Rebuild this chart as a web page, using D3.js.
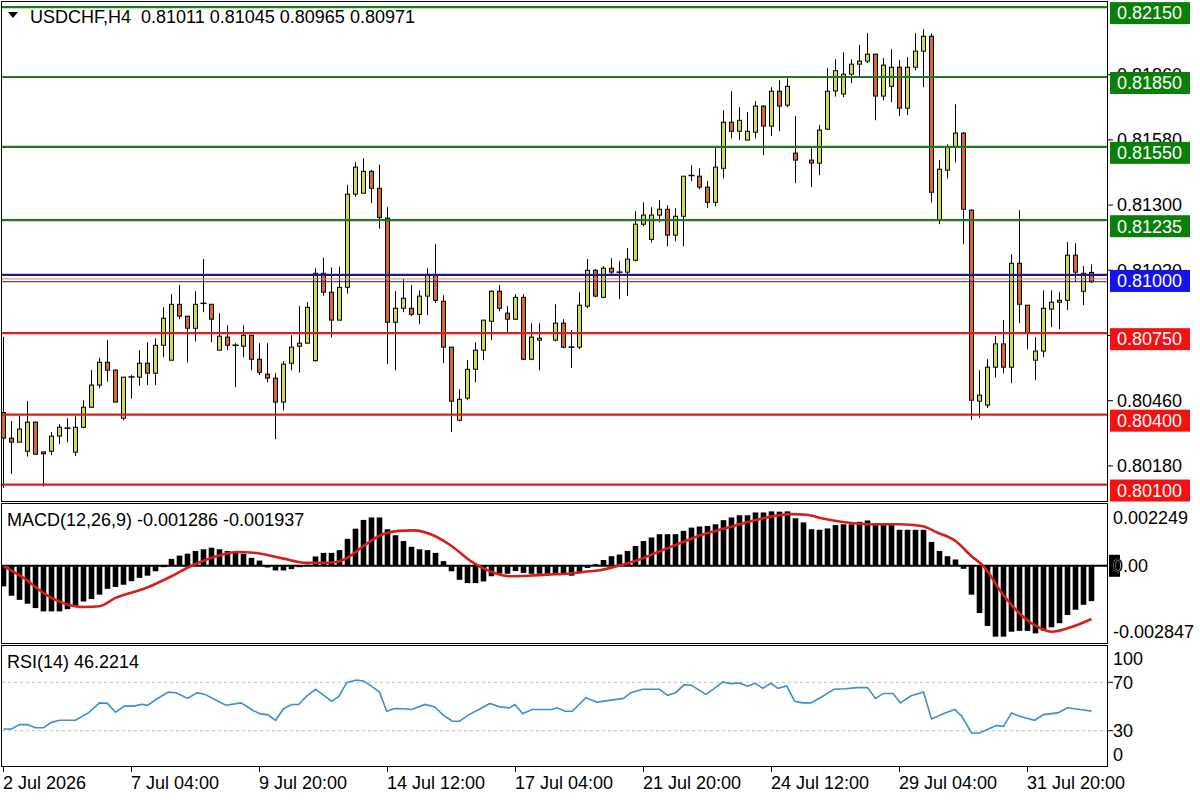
<!DOCTYPE html>
<html>
<head>
<meta charset="utf-8">
<script src="https://cdn.jsdelivr.net/npm/d3@7"></script>
<style>
  html, body { margin: 0; padding: 0; background: #fff; }
  svg { display: block; font-family: "Liberation Sans", Arial, sans-serif; }
  text { white-space: pre; }
</style>
</head>
<body>
<svg id="chart" width="1200" height="800"></svg>
<script>
// ———————————————————————————
// 1. Data (USDCHF H4)
// ———————————————————————————
const opens = [
  0.80409,0.80299,0.80282,0.80243,0.80368,0.80240,0.80243,0.80308,0.80342,0.80239,
  0.80346,0.80432,0.80527,0.80625,0.80591,0.80385,0.80562,0.80561,0.80621,0.80578,
  0.80698,0.80634,0.80874,0.80823,0.80771,0.80878,0.80874,0.80677,0.80733,0.80698,
  0.80694,0.80741,0.80638,0.80574,0.80557,0.80454,0.80621,0.80694,0.80707,0.80632,
  0.81007,0.80926,0.80806,0.80947,0.81347,0.81351,0.81445,0.81372,0.81244,0.80797,
  0.80857,0.80857,0.80831,0.80909,0.80999,0.80887,0.80690,0.80376,0.80471,0.80595,
  0.80677,0.80801,0.80930,0.80836,0.80810,0.80904,0.80638,0.80720,null,0.80720,
  0.80793,0.80690,0.80690,0.80866,0.81020,0.80904,0.81029,0.81012,0.81012,0.81063,
  0.81218,0.81153,0.81257,0.81282,0.81171,0.81252,0.81427,0.81424,0.81377,0.81312,
  0.81458,0.81656,0.81617,0.81579,0.81613,0.81725,0.81639,0.81789,0.81729,0.81523,
  null,0.81493,0.81480,0.81626,0.81790,0.81777,0.81862,0.81905,0.81918,0.81948,
  0.81768,0.81810,0.81892,0.81716,0.81892,0.81961,0.82025,0.81235,0.81450,0.81549,
  0.81609,0.81278,0.80458,0.80441,0.80604,0.80704,0.80604,0.81050,0.80870,0.80634,
  0.80673,0.80853,0.80883,0.80891,0.81085,0.80930,0.81011
];
const highs = [
  0.80734,0.80373,0.80396,0.80458,0.80370,0.80240,0.80325,0.80359,0.80385,0.80393,
  0.80462,0.80592,0.80644,0.80721,0.80595,0.80561,0.80570,0.80677,0.80711,0.80728,
  0.80861,0.80917,0.80956,0.80823,0.80930,0.81068,0.80874,0.80836,0.80784,0.80707,
  0.80784,0.80741,0.80707,0.80707,0.80578,0.80630,0.80741,0.80866,0.80883,0.81029,
  0.81074,0.81032,0.81035,0.81387,0.81485,0.81501,0.81451,0.81474,0.81291,0.80931,
  0.80982,0.80956,0.80934,0.81029,0.81132,0.80913,0.80690,0.80509,0.80634,0.80711,
  0.80806,0.80934,0.80956,0.80866,0.80917,0.80917,0.80793,0.80793,null,0.80874,
  0.80810,0.80763,0.80926,0.81068,0.81025,0.81038,0.81072,0.81059,0.81115,0.81274,
  0.81312,0.81291,0.81321,0.81299,0.81287,0.81424,0.81471,0.81458,0.81403,0.81553,
  0.81707,0.81789,0.81720,0.81699,0.81746,0.81729,0.81806,0.81836,0.81845,0.81682,
  null,0.81544,0.81643,0.81888,0.81926,0.81956,0.81926,0.81988,0.82038,0.81948,
  0.81931,0.81969,0.81922,0.81935,0.82038,0.82055,0.82038,0.81493,0.81561,0.81733,
  0.81613,0.81282,0.80591,0.80638,0.80738,0.80807,0.81089,0.81278,0.80870,0.80733,
  0.80934,0.80934,0.80926,0.81141,0.81136,0.81038,0.81045
];
const lows = [
  0.80086,0.80146,0.80283,0.80220,0.80230,0.80091,0.80226,0.80273,0.80282,0.80222,
  0.80342,0.80428,0.80514,0.80542,0.80454,0.80376,0.80469,0.80524,0.80527,0.80527,
  0.80647,0.80634,0.80810,0.80625,0.80715,0.80840,0.80711,0.80677,0.80677,0.80518,
  0.80647,0.80591,0.80570,0.80539,0.80295,0.80419,0.80591,0.80581,0.80707,0.80628,
  0.80911,0.80731,0.80806,0.80920,0.81336,0.81351,0.81308,0.81199,0.80617,0.80591,
  0.80840,0.80823,0.80788,0.80827,0.80879,0.80621,0.80325,0.80372,0.80462,0.80539,
  0.80634,0.80720,0.80844,0.80752,0.80806,0.80634,0.80634,0.80591,null,0.80715,
  0.80685,0.80600,0.80681,0.80857,0.80904,0.80900,0.81003,0.80896,0.80909,0.81059,
  0.81209,0.81139,0.81226,0.81123,0.81145,0.81123,0.81403,0.81368,0.81287,0.81295,
  0.81415,0.81587,0.81579,0.81579,0.81587,0.81514,0.81596,0.81617,0.81720,0.81394,
  null,0.81377,0.81428,0.81622,0.81766,0.81763,0.81823,0.81852,0.81909,0.81664,
  0.81750,0.81742,0.81682,0.81686,0.81879,0.81806,0.81312,0.81218,0.81415,0.81484,
  0.81132,0.80378,0.80386,0.80428,0.80559,0.80578,0.80535,0.80793,0.80681,0.80548,
  0.80647,0.80776,0.80767,0.80849,0.80969,0.80870,0.80965
];
const closes = [
  0.80299,0.80282,0.80338,0.80368,0.80230,0.80232,0.80308,0.80346,0.80343,0.80346,
  0.80432,0.80527,0.80625,0.80591,0.80454,0.80561,0.80562,0.80621,0.80578,0.80698,
  0.80814,0.80874,0.80823,0.80771,0.80874,0.80878,0.80810,0.80737,0.80698,0.80698,
  0.80741,0.80638,0.80582,0.80557,0.80454,0.80617,0.80690,0.80707,0.80861,0.81007,
  0.80926,0.80806,0.80947,0.81347,0.81463,0.81445,0.81372,0.81246,0.80797,0.80857,
  0.80900,0.80831,0.80909,0.80999,0.80891,0.80690,0.80458,0.80466,0.80595,0.80677,
  0.80806,0.80930,0.80857,0.80810,0.80904,0.80638,0.80733,0.80728,null,0.80793,
  0.80690,0.80690,0.80870,0.81020,0.80909,0.81029,0.81012,0.81012,0.81068,0.81218,
  0.81257,0.81257,0.81282,0.81171,0.81252,0.81424,0.81427,0.81377,0.81312,0.81463,
  0.81656,0.81617,0.81664,0.81617,0.81725,0.81639,0.81789,0.81725,0.81810,0.81493,
  null,0.81480,0.81622,0.81789,0.81877,0.81862,0.81905,0.81918,0.81948,0.81768,
  0.81901,0.81892,0.81716,0.81892,0.81961,0.82025,0.81355,0.81454,0.81549,0.81609,
  0.81282,0.80462,0.80484,0.80604,0.80704,0.80604,0.81050,0.80874,0.80750,0.80673,
  0.80857,0.80883,0.80891,0.81085,0.81012,0.81007,0.80971
];

// MACD(12,26,9) main histogram, one value per bar
const macdHist = [
  -0.00075,-0.00109,-0.00124,-0.00138,-0.00154,-0.00166,-0.00166,-0.00166,-0.00158,-0.00146,
  -0.00130,-0.00121,-0.00105,-0.00084,-0.00077,-0.00069,-0.00056,-0.00044,-0.00036,-0.00020,
  -0.00005,0.00025,0.00037,0.00044,0.00054,0.00060,0.00066,0.00060,0.00054,0.00047,
  0.00044,0.00029,0.00019,-0.00006,-0.00017,-0.00017,-0.00012,-0.00005,0.00004,0.00034,
  0.00047,0.00047,0.00057,0.00098,0.00135,0.00167,0.00176,0.00176,0.00133,0.00111,
  0.00090,0.00069,0.00060,0.00057,0.00047,0.00017,-0.00020,-0.00051,-0.00063,-0.00063,
  -0.00057,-0.00038,-0.00029,-0.00029,-0.00019,-0.00026,-0.00029,-0.00029,-0.00029,-0.00029,
  -0.00029,-0.00036,-0.00024,-0.00008,0.00006,0.00021,0.00035,0.00041,0.00054,0.00072,
  0.00090,0.00103,0.00115,0.00115,0.00115,0.00127,0.00139,0.00143,0.00145,0.00151,
  0.00166,0.00176,0.00184,0.00184,0.00194,0.00194,0.00198,0.00197,0.00198,0.00173,
  0.00158,0.00133,0.00131,0.00136,0.00148,0.00151,0.00151,0.00160,0.00165,0.00151,
  0.00151,0.00151,0.00131,0.00131,0.00131,0.00131,0.00087,0.00054,0.00035,0.00023,
  -0.00011,-0.00105,-0.00172,-0.00219,-0.00258,-0.00258,-0.00240,-0.00237,-0.00237,-0.00246,
  -0.00236,-0.00224,-0.00209,-0.00179,-0.00160,-0.00142,-0.001286
];

// MACD signal line, read at these bar positions
const signalBar = [0,2.5,5.3,7.7,10.1,12,14,17.8,21,23.5,26.4,29.3,32,35,37.9,40.7,42.6,45,47.4,49.4,
  51.3,53.7,56,58.4,60.8,63.2,65.6,68,70.4,73.3,74.6,77.5,79.5,81.8,84.2,86.6,89,91.3,93.7,96.1,
  98.5,100.4,102.4,104.7,108,112,114.8,116.7,119,121,122.5,124.8,127.2,129.6,131,133.4,136];
const signalValue = [-0.00001,-0.00044,-0.00105,-0.00138,-0.00150,-0.00147,-0.00117,-0.00081,-0.00038,0.00000,
  0.00033,0.00050,0.00045,0.00026,0.00011,0.00011,0.00023,0.00072,0.00115,0.00127,
  0.00129,0.00111,0.00072,0.00017,-0.00020,-0.00038,-0.00036,-0.00032,-0.00029,-0.00020,
  -0.00016,0.00005,0.00023,0.00050,0.00078,0.00106,0.00127,0.00145,0.00164,0.00180,
  0.00188,0.00186,0.00172,0.00160,0.00151,0.00151,0.00145,0.00121,0.00090,0.00035,
  -0.00001,-0.00099,-0.00179,-0.00227,-0.00240,-0.00224,-0.001937];

// RSI(14), read at these bar positions
const rsiBar = [0,1,2,3,4,5,6,7,9,10.6,12,13,14,15.1,16.3,17.3,18,19.2,20.6,21.6,
  23,24.2,25.2,26.4,27.8,29.7,31.2,32.1,33,34,35,36,36.9,37.9,39,40,41,41.9,42.9,44.1,
  45,46,47,47.9,48.9,50,51,52.7,53.9,54.9,56.1,57,58.2,59.6,60.8,62,63.2,63.9,64.9,66.1,
  68.5,69.2,70.2,71.1,72.8,74.2,77.5,78.4,79.9,82,83,84,85.1,86,87.8,88.7,89.9,90.9,92,93,
  94,94.9,95.9,96.8,97.9,98.9,99.9,100.9,102.1,103.8,105.2,106.7,108,109,110,111.2,112.1,113.4,115,116,
  117.7,118.9,119.8,121,122,124.1,125,126,127,128.9,130,131.8,133,134.6,136];
const rsiValue = [31.4,31.4,35,35,32.5,32.5,36.9,38.6,38.6,44.7,53,52.6,45.3,50.3,50.3,51.9,51,56.4,61.9,61.4,
  56.7,61.4,60,55.8,51.1,53,46.7,43.9,43.3,38.6,48,51.7,51.7,58.6,64.2,59.4,54.4,58.1,69.7,71.9,
  71.1,66.9,61.9,46.1,48.3,48.1,47.5,51.7,49.7,43.3,37.8,37.8,43.3,48.1,52.5,49.7,48.9,51.7,44.2,47.5,
  47.5,48.9,46.1,46.1,57.2,53.6,56.7,61.4,64.2,64.2,59.2,61.4,68.1,67.5,60,64.2,70.3,68.9,69.4,66.9,
  69.2,65,69.2,65,66.9,54.4,53,53,57.2,64.2,64.7,65.6,65.6,56.7,60.8,60.8,53,58.6,61.9,39.7,
  44.7,47.5,41.9,28.1,28.1,34.2,33.6,44.7,41.9,38.6,43.3,44.7,48.9,47.5,46.2];

// horizontal levels drawn on the chart
const levelPrices = [0.82150, 0.81850, 0.81550, 0.81235, 0.81000, 0.80750, 0.80400, 0.80100];
const levelKinds  = ["sup", "sup", "sup", "sup", "pivot", "res", "res", "res"];
const bidPrice = 0.80971;
const askPrice = 0.80983;

// axis ticks
const priceTicks = [0.81860, 0.81580, 0.81300, 0.81020, 0.80740, 0.80460, 0.80180];
const dateTickBars = [0, 16, 32, 48, 64, 80, 96, 112, 128];
const dateTickLabels = ["2 Jul 2026", "7 Jul 04:00", "9 Jul 20:00", "14 Jul 12:00", "17 Jul 04:00",
  "21 Jul 20:00", "24 Jul 12:00", "29 Jul 04:00", "31 Jul 20:00"];
const macdLabels = [0.002249, 0, -0.002847];
const rsiLabels = [100, 70, 30, 0];

const headerText = "USDCHF,H4  0.81011 0.81045 0.80965 0.80971";
const macdTitle = "MACD(12,26,9) -0.001286 -0.001937";
const rsiTitle = "RSI(14) 46.2214";

// ———————————————————————————
// 2. Layout + scales
// ———————————————————————————
const svg = d3.select("#chart");
const plotLeft = 2, plotRight = 1108;
const mainP = { top: 2, bottom: 502 };
const macdP = { top: 504, bottom: 644 };
const rsiP  = { top: 646, bottom: 767 };
const FONT = 18;

const colors = {
  bull: "#c6d76c", bear: "#d5673b",
  sup: "#1d7a1d", res: "#d8201a", pivot: "#1c1c8c",
  supBox: "#0b7f0b", resBox: "#f21212", pivotBox: "#1414e6",
  signal: "#d4201c", rsi: "#3d8fd4"
};

const x = d3.scaleLinear().domain([0, 136]).range([3.5, 1091.5]);
const y = d3.scaleLinear().domain([0.80025, 0.82172]).range([mainP.bottom, mainP.top]);
const yMacd = d3.scaleLinear().domain([-0.002847, 0.002249]).range([macdP.bottom, macdP.top]);
const yRsi = d3.scaleLinear().domain([0, 100]).range([rsiP.bottom, rsiP.top]);

svg.append("rect").attr("width", 1200).attr("height", 800).attr("fill", "#fff");

const defs = svg.append("defs");
[["clipMain", mainP], ["clipMacd", macdP], ["clipRsi", rsiP]].forEach(([id, p]) => {
  defs.append("clipPath").attr("id", id).append("rect")
    .attr("x", plotLeft).attr("y", p.top)
    .attr("width", plotRight - plotLeft).attr("height", p.bottom - p.top);
});

// ———————————————————————————
// 3. Candles
// ———————————————————————————
const candles = d3.range(opens.length)
  .filter(i => opens[i] != null)
  .map(i => ({ i, o: opens[i], h: highs[i], l: lows[i], c: closes[i] }));

const gMain = svg.append("g").attr("clip-path", "url(#clipMain)");

gMain.selectAll("line.wick")
  .data(candles)
  .join("line")
    .attr("class", "wick")
    .attr("x1", d => x(d.i)).attr("x2", d => x(d.i))
    .attr("y1", d => y(d.h)).attr("y2", d => y(d.l))
    .attr("stroke", "#000").attr("stroke-width", 1);

gMain.selectAll("rect.body")
  .data(candles.filter(d => Math.abs(y(d.o) - y(d.c)) >= 1))
  .join("rect")
    .attr("class", "body")
    .attr("x", d => x(d.i) - 2)
    .attr("width", 4)
    .attr("y", d => y(Math.max(d.o, d.c)))
    .attr("height", d => Math.abs(y(d.o) - y(d.c)))
    .attr("fill", d => d.c >= d.o ? colors.bull : colors.bear)
    .attr("stroke", "#000").attr("stroke-width", 1);

// doji: flat body
gMain.selectAll("line.doji")
  .data(candles.filter(d => Math.abs(y(d.o) - y(d.c)) < 1))
  .join("line")
    .attr("class", "doji")
    .attr("x1", d => x(d.i) - 3).attr("x2", d => x(d.i) + 3)
    .attr("y1", d => y(d.o)).attr("y2", d => y(d.o))
    .attr("stroke", "#000").attr("stroke-width", 1.5);

// ———————————————————————————
// 4. Levels, bid / ask lines
// ———————————————————————————
gMain.selectAll("line.level")
  .data(levelPrices.map((p, k) => ({ p, kind: levelKinds[k] })))
  .join("line")
    .attr("class", "level")
    .attr("x1", plotLeft).attr("x2", plotRight)
    .attr("y1", d => y(d.p)).attr("y2", d => y(d.p))
    .attr("stroke", d => colors[d.kind]).attr("stroke-width", 2.2);

gMain.append("line")
  .attr("x1", plotLeft).attr("x2", plotRight)
  .attr("y1", y(askPrice)).attr("y2", y(askPrice))
  .attr("stroke", "#e07a7a").attr("stroke-width", 1);
gMain.append("line")
  .attr("x1", plotLeft).attr("x2", plotRight)
  .attr("y1", y(bidPrice)).attr("y2", y(bidPrice))
  .attr("stroke", "#23235f").attr("stroke-width", 1);

// ———————————————————————————
// 5. MACD panel
// ———————————————————————————
const gMacd = svg.append("g").attr("clip-path", "url(#clipMacd)");

gMacd.selectAll("rect.hist")
  .data(macdHist.map((v, i) => ({ i, v })))
  .join("rect")
    .attr("class", "hist")
    .attr("x", d => x(d.i) - 2.8)
    .attr("width", 5.6)
    .attr("y", d => yMacd(Math.max(0, d.v)))
    .attr("height", d => Math.abs(yMacd(d.v) - yMacd(0)))
    .attr("fill", "#000");

gMacd.append("line")
  .attr("x1", plotLeft).attr("x2", plotRight)
  .attr("y1", yMacd(0)).attr("y2", yMacd(0))
  .attr("stroke", "#000").attr("stroke-width", 2);

gMacd.append("path")
  .datum(signalBar.map((b, k) => [b, signalValue[k]]))
  .attr("fill", "none")
  .attr("stroke", colors.signal).attr("stroke-width", 2.6)
  .attr("d", d3.line().x(d => x(d[0])).y(d => yMacd(d[1])).curve(d3.curveMonotoneX));

// ———————————————————————————
// 6. RSI panel
// ———————————————————————————
const gRsi = svg.append("g").attr("clip-path", "url(#clipRsi)");

gRsi.selectAll("line.rsiLevel")
  .data([70, 30])
  .join("line")
    .attr("class", "rsiLevel")
    .attr("x1", plotLeft).attr("x2", plotRight)
    .attr("y1", d => yRsi(d)).attr("y2", d => yRsi(d))
    .attr("stroke", "#bdbdbd").attr("stroke-width", 1)
    .attr("stroke-dasharray", "3,3");

gRsi.append("path")
  .datum(rsiBar.map((b, k) => [b, rsiValue[k]]))
  .attr("fill", "none")
  .attr("stroke", colors.rsi).attr("stroke-width", 1.6)
  .attr("d", d3.line().x(d => x(d[0])).y(d => yRsi(d[1])));

// ———————————————————————————
// 7. Frames
// ———————————————————————————
[mainP, macdP, rsiP].forEach(p => {
  svg.append("rect")
    .attr("x", plotLeft - 0.5).attr("y", p.top - 0.5)
    .attr("width", plotRight - plotLeft).attr("height", p.bottom - p.top)
    .attr("fill", "none").attr("stroke", "#000").attr("stroke-width", 1);
});

// ———————————————————————————
// 8. Right axes
// ———————————————————————————
const labelX = 1117;

svg.append("g").selectAll("line")
  .data(priceTicks)
  .join("line")
    .attr("x1", plotRight).attr("x2", plotRight + 5)
    .attr("y1", d => y(d)).attr("y2", d => y(d))
    .attr("stroke", "#000");

svg.append("g").selectAll("text")
  .data(priceTicks)
  .join("text")
    .attr("x", labelX).attr("y", d => y(d)).attr("dy", "0.35em")
    .attr("font-size", FONT).attr("fill", "#000")
    .text(d => d.toFixed(5));

// level price boxes (drawn over the tick labels)
const boxes = svg.append("g").selectAll("g")
  .data(levelPrices.map((p, k) => ({ p, kind: levelKinds[k] })))
  .join("g");
boxes.append("rect")
  .attr("x", plotRight + 2).attr("width", 80)
  .attr("y", d => y(d.p) - 5).attr("height", 22)
  .attr("fill", d => colors[d.kind + "Box"]);
boxes.append("text")
  .attr("x", labelX).attr("y", d => y(d.p) + 6).attr("dy", "0.35em")
  .attr("font-size", FONT).attr("fill", "#fff")
  .text(d => d.p.toFixed(5));

// MACD axis
svg.append("rect")
  .attr("x", plotRight + 1).attr("width", 11)
  .attr("y", yMacd(0) - 11).attr("height", 22)
  .attr("fill", "#000");
svg.append("g").selectAll("text")
  .data(macdLabels)
  .join("text")
    .attr("x", 1113)
    .attr("y", d => d > 0 ? yMacd(d) + 14 : d < 0 ? yMacd(d) - 12 : yMacd(d))
    .attr("dy", "0.35em")
    .attr("font-size", FONT).attr("fill", "#000")
    .attr("stroke", d => d === 0 ? "#fff" : "none").attr("stroke-width", 0.6)
    .attr("paint-order", "stroke")
    .text(d => d === 0 ? "0.00" : d.toFixed(6));

// RSI axis
svg.append("g").selectAll("line")
  .data([70, 30])
  .join("line")
    .attr("x1", plotRight).attr("x2", plotRight + 5)
    .attr("y1", d => yRsi(d)).attr("y2", d => yRsi(d))
    .attr("stroke", "#000");
svg.append("g").selectAll("text")
  .data(rsiLabels)
  .join("text")
    .attr("x", 1113)
    .attr("y", d => d === 100 ? yRsi(d) + 13 : d === 0 ? yRsi(d) - 12 : yRsi(d))
    .attr("dy", "0.35em")
    .attr("font-size", FONT).attr("fill", "#000")
    .text(d => d);

// ———————————————————————————
// 9. Time axis
// ———————————————————————————
const gTime = svg.append("g");
gTime.selectAll("line")
  .data(dateTickBars)
  .join("line")
    .attr("x1", d => x(d)).attr("x2", d => x(d))
    .attr("y1", rsiP.bottom).attr("y2", rsiP.bottom + 5)
    .attr("stroke", "#000");
gTime.selectAll("text")
  .data(dateTickBars)
  .join("text")
    .attr("x", d => x(d) - 0.5).attr("y", 783).attr("dy", "0.35em")
    .attr("font-size", FONT).attr("fill", "#000")
    .text((d, k) => dateTickLabels[k]);

// ———————————————————————————
// 10. Titles
// ———————————————————————————
svg.append("path").attr("d", "M8,12 L18,12 L13,18 Z").attr("fill", "#000");
svg.append("text").attr("x", 30).attr("y", 17).attr("dy", "0.35em")
  .attr("font-size", FONT).attr("fill", "#000").text(headerText);
svg.append("text").attr("x", 7).attr("y", 520).attr("dy", "0.35em")
  .attr("font-size", FONT).attr("fill", "#000").text(macdTitle);
svg.append("text").attr("x", 7).attr("y", 662).attr("dy", "0.35em")
  .attr("font-size", FONT).attr("fill", "#000").text(rsiTitle);
</script>
</body>
</html>
